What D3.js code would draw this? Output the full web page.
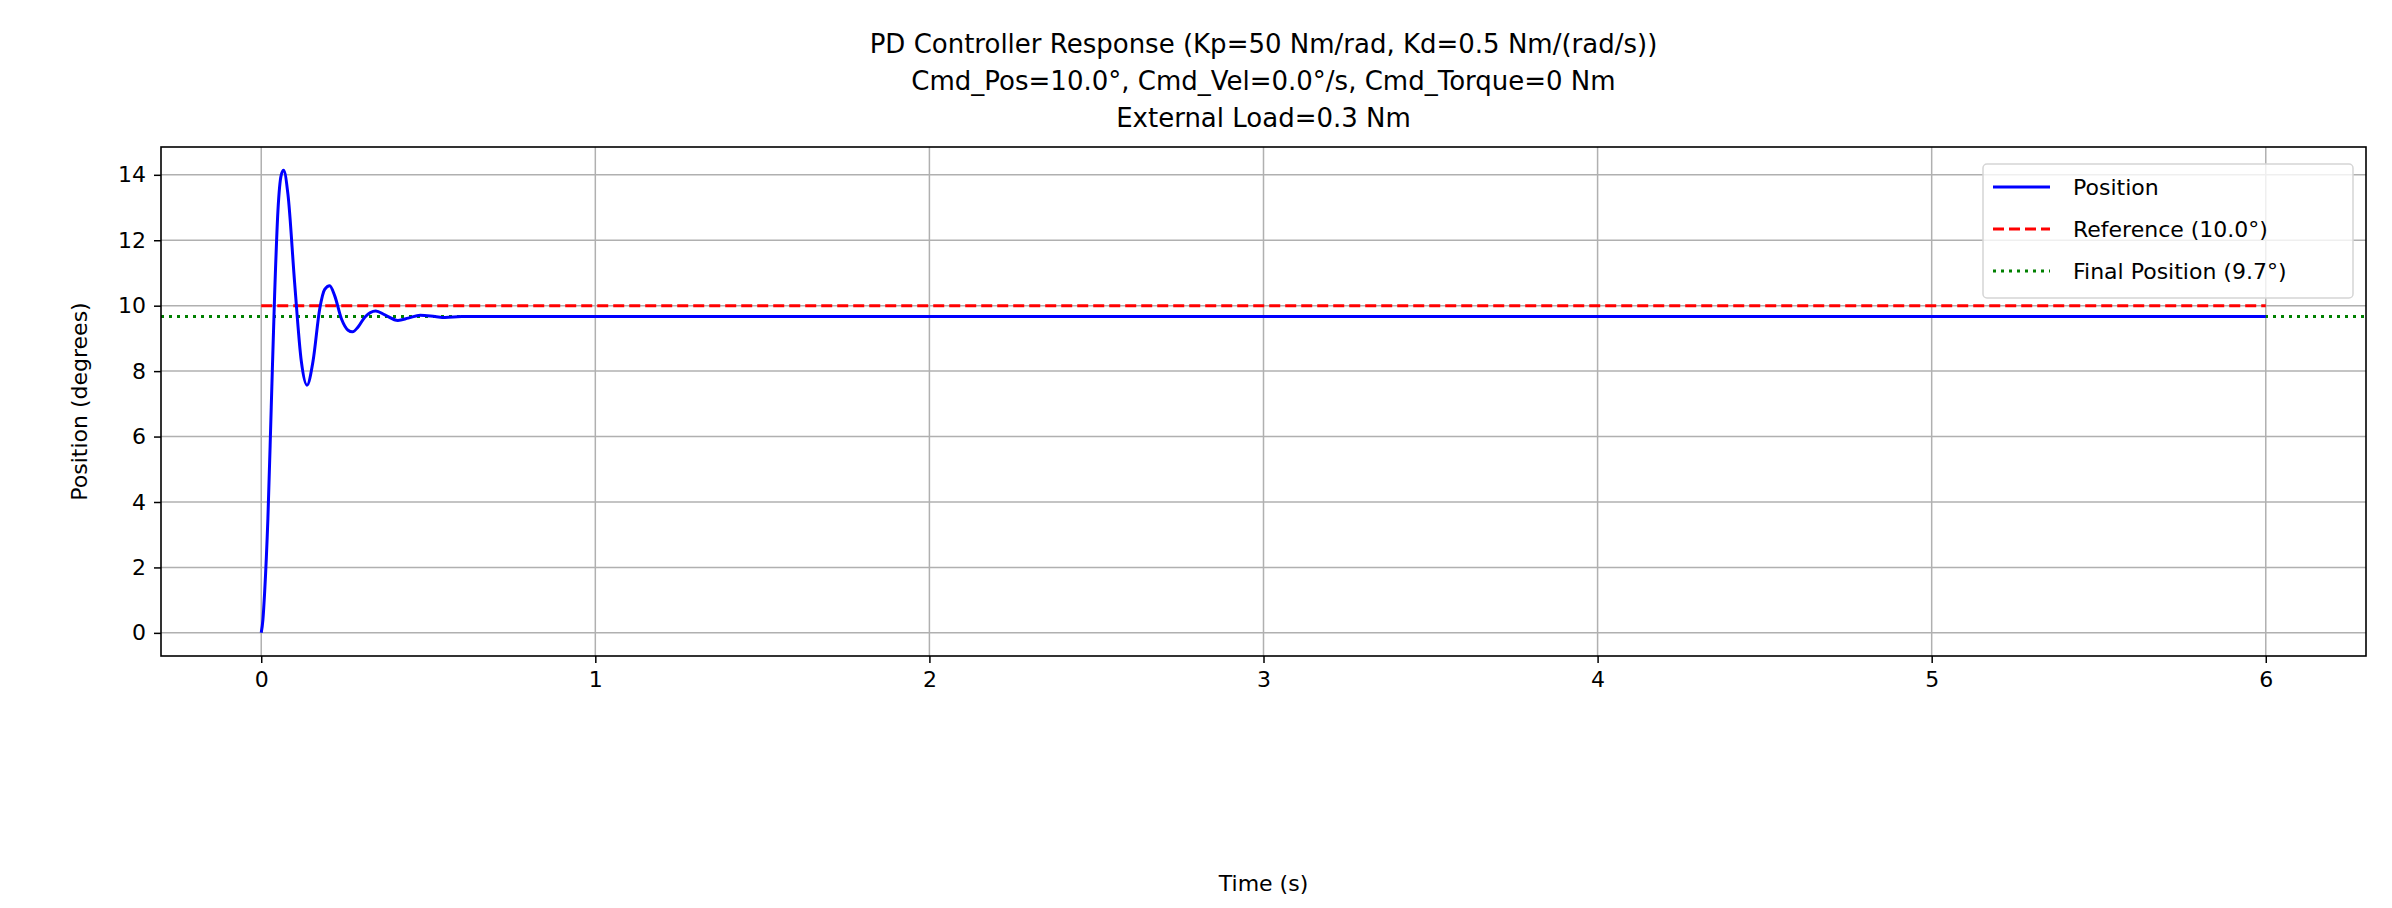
<!DOCTYPE html>
<html><head><meta charset="utf-8">
<script src="https://cdn.jsdelivr.net/npm/d3@7"></script>
<style>body{margin:0;background:#fff}text{font-family:"DejaVu Sans",sans-serif}</style>
</head><body><svg id="chart" width="2392" height="908"></svg>
<script>
// time (s) and position (deg)
const timeS = [0,0.005,0.01,0.02,0.03,0.04,0.05,0.06,0.067,0.08,0.1,0.12,0.137,0.155,0.175,0.19,0.205,0.22,0.24,0.26,0.273,0.29,0.31,0.343,0.37,0.409,0.44,0.476,0.52,0.55,0.6,0.7,1,6]
const posDeg = [0,0.4,1.2,3.5,6.9,10.3,12.9,14.0,14.14,13.4,10.7,8.3,7.57,8.3,9.9,10.5,10.61,10.3,9.6,9.25,9.2,9.35,9.65,9.84,9.72,9.55,9.62,9.71,9.67,9.64,9.67,9.67,9.67,9.67]
const refDeg = 10.0
const finalDeg = 9.67
const xTicks = [0,1,2,3,4,5,6]
const yTicks = [0,2,4,6,8,10,12,14]
const titleLines = ["PD Controller Response (Kp=50 Nm/rad, Kd=0.5 Nm/(rad/s))", "Cmd_Pos=10.0°, Cmd_Vel=0.0°/s, Cmd_Torque=0 Nm", "External Load=0.3 Nm"]

let svg = d3.select("#chart")
let mLeft = 161, mRight = 2366, mTop = 147, mBottom = 656
let x = d3.scaleLinear().domain([-0.3, 6.3]).range([mLeft, mRight])
let y = d3.scaleLinear().domain([-0.707, 14.85]).range([mBottom, mTop])

// grid
svg.append("g").selectAll("line").data(xTicks).join("line")
    .attr("x1", d => x(d)).attr("x2", d => x(d)).attr("y1", mTop).attr("y2", mBottom)
    .attr("stroke", "#b0b0b0").attr("stroke-width", 1.5)
svg.append("g").selectAll("line").data(yTicks).join("line")
    .attr("y1", d => y(d)).attr("y2", d => y(d)).attr("x1", mLeft).attr("x2", mRight)
    .attr("stroke", "#b0b0b0").attr("stroke-width", 1.5)

let xAxis = svg.append("g").attr("transform", `translate(0,${mBottom})`)
    .call(d3.axisBottom(x).tickValues(xTicks).tickFormat(d3.format("d")).tickSize(7).tickPadding(8))
let yAxis = svg.append("g").attr("transform", `translate(${mLeft},0)`)
    .call(d3.axisLeft(y).tickValues(yTicks).tickFormat(d3.format("d")).tickSize(7).tickPadding(8))
;[xAxis, yAxis].forEach(a => {
    a.select(".domain").remove()
    a.selectAll("line").attr("stroke-width", 1.5)
    a.selectAll("text").style("font-size", "22px").style("font-family", "DejaVu Sans")
})

// ref lines
svg.append("line").attr("x1", x(0)).attr("x2", x(6)).attr("y1", y(refDeg)).attr("y2", y(refDeg))
    .attr("stroke", "red").attr("stroke-width", 3).attr("stroke-dasharray", "11,5")
svg.append("line").attr("x1", mLeft).attr("x2", mRight).attr("y1", y(finalDeg)).attr("y2", y(finalDeg))
    .attr("stroke", "green").attr("stroke-width", 3).attr("stroke-dasharray", "3,5")

let line = d3.line().x((d, i) => x(timeS[i])).y(d => y(d)).curve(d3.curveMonotoneX)
svg.append("path").attr("d", line(posDeg)).attr("fill", "none").attr("stroke", "blue").attr("stroke-width", 3)

svg.append("rect").attr("x", mLeft).attr("y", mTop).attr("width", mRight - mLeft).attr("height", mBottom - mTop)
    .attr("fill", "none").attr("stroke", "black").attr("stroke-width", 1.6)

// titles
svg.append("g").selectAll("text").data(titleLines).join("text")
    .attr("x", (mLeft + mRight) / 2).attr("y", (d, i) => 53 + i * 37).attr("text-anchor", "middle")
    .style("font-size", "26px").text(d => d)
svg.append("text").attr("x", (mLeft + mRight) / 2).attr("y", 891).attr("text-anchor", "middle")
    .style("font-size", "22px").text("Time (s)")
svg.append("text").attr("transform", `translate(87,${(mTop + mBottom) / 2}) rotate(-90)`).attr("text-anchor", "middle")
    .style("font-size", "22px").text("Position (degrees)")

// legend
let legend = svg.append("g")
legend.append("rect").attr("x", 1983).attr("y", 164).attr("width", 370).attr("height", 134).attr("rx", 4)
    .attr("fill", "white").attr("fill-opacity", 0.8).attr("stroke", "#d5d5d5").attr("stroke-width", 1.5)
let items = [["Position", "blue", null], ["Reference (10.0°)", "red", "11,5"], ["Final Position (9.7°)", "green", "3,5"]]
items.forEach((it, i) => {
    let yy = 187 + i * 42
    legend.append("line").attr("x1", 1993).attr("x2", 2050).attr("y1", yy).attr("y2", yy)
        .attr("stroke", it[1]).attr("stroke-width", 3).attr("stroke-dasharray", it[2])
    legend.append("text").attr("x", 2073).attr("y", yy + 8).style("font-size", "22px").text(it[0])
})
</script></body></html>
